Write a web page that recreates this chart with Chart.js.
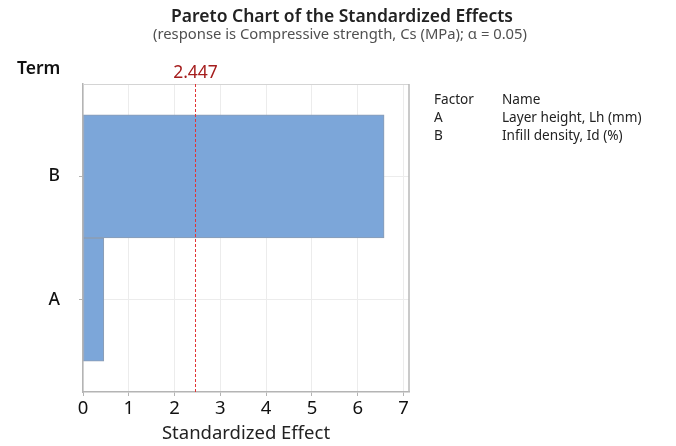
<!DOCTYPE html>
<html>
<head>
<meta charset="utf-8">
<script src="https://cdn.jsdelivr.net/npm/chart.js@4"></script>
<style>
  html, body { margin: 0; padding: 0; background: #fff; }
  canvas { display: block; }
</style>
</head>
<body>
<canvas id="pareto" width="676" height="446"></canvas>
<script>
// Terms and their standardized effects
const terms = ['A', 'B'];
const effects = [0.455, 6.576];
// Reference line: critical t value at alpha = 0.05
const critical = 2.447;
const xTicks = [0, 1, 2, 3, 4, 5, 6, 7];
// Factor key
const factorCodes = ['A', 'B'];
const factorNames = ['Layer height, Lh (mm)', 'Infill density, Id (%)'];

const FONT = '"Noto Sans", "Open Sans", sans-serif';

const decorations = {
  id: 'decorations',
  beforeDatasetsDraw(chart) {
    const { ctx, chartArea: a } = chart;
    ctx.save();
    // frame on the top and right sides
    ctx.strokeStyle = '#d4d4d4';
    ctx.lineWidth = 1;
    ctx.beginPath();
    ctx.moveTo(a.left, a.top + 0.5);
    ctx.lineTo(a.right, a.top + 0.5);
    ctx.stroke();
    ctx.strokeStyle = '#b8b8b8';
    ctx.lineWidth = 1.5;
    ctx.beginPath();
    ctx.moveTo(a.right, a.top);
    ctx.lineTo(a.right, a.bottom);
    ctx.stroke();
    ctx.restore();
  },
  afterDatasetsDraw(chart) {
    const { ctx, chartArea: a, scales } = chart;
    const xc = Math.round(scales.x.getPixelForValue(critical)) + 0.5;
    ctx.save();
    ctx.strokeStyle = '#e03535';
    ctx.lineWidth = 1;
    ctx.setLineDash([3, 2]);
    ctx.beginPath();
    ctx.moveTo(xc, a.top);
    ctx.lineTo(xc, a.bottom);
    ctx.stroke();
    ctx.setLineDash([]);

    ctx.textBaseline = 'middle';
    ctx.textAlign = 'center';
    ctx.fillStyle = '#a51d1d';
    ctx.font = '17.5px ' + FONT;
    ctx.fillText(critical.toFixed(3), xc, 73);

    // titles
    ctx.fillStyle = '#222';
    ctx.font = '600 17.5px ' + FONT;
    ctx.fillText('Pareto Chart of the Standardized Effects', 342, 17);
    ctx.fillStyle = '#505050';
    ctx.font = '14.8px ' + FONT;
    ctx.fillText('(response is Compressive strength, Cs (MPa); \u03B1 = 0.05)', 340, 35);

    // axis titles
    ctx.fillStyle = '#222';
    ctx.font = '18.5px ' + FONT;
    ctx.fillText('Standardized Effect', (a.left + a.right) / 2, 434);
    ctx.textAlign = 'left';
    ctx.fillStyle = '#111';
    ctx.font = '600 17.5px ' + FONT;
    ctx.fillText('Term', 17, 69);

    // factor key
    ctx.font = '13.6px ' + FONT;
    ctx.fillStyle = '#222';
    ctx.fillText('Factor', 434, 100);
    ctx.fillText('Name', 502, 100);
    factorCodes.forEach((c, i) => {
      ctx.fillText(c, 434, 118 + i * 18);
      ctx.fillText(factorNames[i], 502, 118 + i * 18);
    });
    ctx.restore();
  }
};

new Chart(document.getElementById('pareto'), {
  type: 'bar',
  data: {
    datasets: [{
      data: terms.map((t, i) => ({ x: effects[i], y: i })),
      backgroundColor: '#7ca6d9',
      borderColor: '#8d9cb2',
      borderWidth: 1,
      borderSkipped: false,
      barPercentage: 1,
      categoryPercentage: 1
    }]
  },
  options: {
    indexAxis: 'y',
    responsive: false,
    animation: false,
    devicePixelRatio: 1,
    layout: { padding: { top: 84, right: 267, left: 0, bottom: 0 } },
    plugins: { legend: { display: false }, tooltip: { enabled: false } },
    scales: {
      x: {
        type: 'linear',
        min: 0,
        max: 7.12,
        afterBuildTicks(s) { s.ticks = xTicks.map(v => ({ value: v })); },
        afterFit(s) { s.height = 54; },
        grid: { color: '#ececec', tickColor: '#b4b4b4', tickLength: 4 },
        border: { color: '#b4b4b4', width: 1.5 },
        ticks: { color: '#111', padding: 2, font: { family: FONT, size: 18.5 } }
      },
      y: {
        type: 'linear',
        offset: false,
        min: -0.75,
        max: 1.75,
        afterBuildTicks(s) { s.ticks = terms.map((t, i) => ({ value: i })); },
        afterFit(s) { s.width = 83; },
        grid: { offset: false, color: '#ececec', tickColor: '#b4b4b4', tickLength: 4 },
        border: { color: '#b4b4b4', width: 1.5 },
        ticks: {
          color: '#111',
          padding: 19,
          font: { family: FONT, size: 17.5, weight: '500' },
          callback: v => terms[v]
        }
      }
    }
  },
  plugins: [decorations]
});
</script>
</body>
</html>
